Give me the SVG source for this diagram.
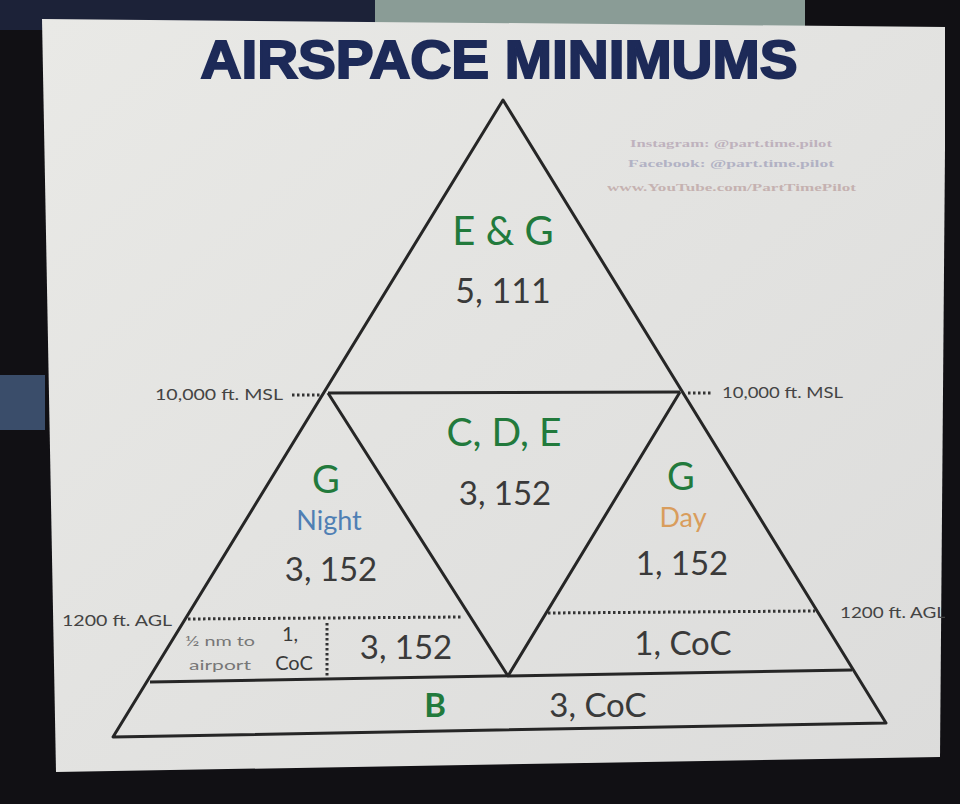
<svg xmlns="http://www.w3.org/2000/svg" width="960" height="804" viewBox="0 0 960 804">
<defs>
<style>
.ln{stroke:#262626;stroke-width:3;fill:none;stroke-linejoin:round}
.dot{stroke:#333;stroke-width:3;fill:none;stroke-dasharray:2.5 2.5}
.g{font-family:Lato,"Open Sans","Liberation Sans",sans-serif;fill:#227a3c;text-anchor:middle}
.n{font-family:Lato,"Open Sans","Liberation Sans",sans-serif;fill:#3a3a3a;text-anchor:middle}
.s{font-family:Lato,"Liberation Sans",Arial,sans-serif;fill:#444;font-size:15px}
.w{font-family:"Liberation Serif",serif;font-weight:bold;font-size:11px;opacity:0.4}
</style>
<linearGradient id="bg" x1="0" y1="0" x2="1" y2="1">
<stop offset="0" stop-color="#e9e9e6"/>
<stop offset="1" stop-color="#dcdcdb"/>
</linearGradient>
</defs>
<rect width="960" height="804" fill="#111014"/>
<rect x="0" y="0" width="375" height="30" fill="#1c2238"/>
<rect x="375" y="0" width="430" height="30" fill="#8a9c96"/>
<rect x="0" y="375" width="45" height="55" fill="#3a4d6a"/>
<polygon points="42,19 946,27 940,757 56,772" fill="url(#bg)"/>
<g id="title">
<text x="499" y="78" font-family="'Liberation Sans',Arial,sans-serif" font-weight="bold" font-size="53" fill="#1d2a58" text-anchor="middle" textLength="597" lengthAdjust="spacingAndGlyphs" stroke="#1d2a58" stroke-width="2">AIRSPACE MINIMUMS</text>
</g>
<g id="watermark">
<text class="w" x="630" y="147" textLength="202" lengthAdjust="spacingAndGlyphs" fill="#8a6a8a">Instagram: @part.time.pilot</text>
<text class="w" x="628" y="167" textLength="206" lengthAdjust="spacingAndGlyphs" fill="#6a6a9a">Facebook: @part.time.pilot</text>
<text class="w" x="607" y="191" textLength="249" lengthAdjust="spacingAndGlyphs" fill="#9a6a6a">www.YouTube.com/PartTimePilot</text>
</g>
<g id="connectors">
<polygon class="ln" points="503,100 886,723 113,737"/>
<line class="ln" x1="328" y1="393" x2="680" y2="392"/>
<line class="ln" x1="150" y1="682" x2="852" y2="670"/>
<polyline class="ln" points="328,393 508,676 680,392"/>
<line class="dot" x1="292" y1="395" x2="322" y2="395"/>
<line class="dot" x1="688" y1="393" x2="712" y2="393"/>
<line class="dot" x1="188" y1="619" x2="462" y2="617"/>
<line class="dot" x1="548" y1="613" x2="815" y2="611"/>
<line class="dot" x1="327" y1="623" x2="327" y2="676"/>
</g>
<g id="eg"><text class="g" x="503" y="245" font-size="40">E &amp; G</text><text class="n" x="503" y="303" font-size="34">5, 111</text></g>
<g id="cde"><text class="g" x="504" y="446" font-size="39">C, D, E</text><text class="n" x="505" y="505" font-size="33">3, 152</text></g>
<g id="g-night"><text class="g" x="326" y="493" font-size="38">G</text><text class="n" x="329" y="530" font-size="27" style="fill:#4f7fb4">Night</text><text class="n" x="331" y="581" font-size="33">3, 152</text></g>
<g id="g-day"><text class="g" x="681" y="490" font-size="38">G</text><text class="n" x="683" y="527" font-size="27" style="fill:#d99d5c">Day</text><text class="n" x="682" y="575" font-size="33">1, 152</text></g>
<g id="g-night-low"><text class="n" x="220" y="646" font-size="14" textLength="70" lengthAdjust="spacingAndGlyphs" style="fill:#777">½ nm to</text><text class="n" x="220" y="670" font-size="14" textLength="62" lengthAdjust="spacingAndGlyphs" style="fill:#777">airport</text><text class="n" x="290" y="641" font-size="20">1,</text><text class="n" x="294" y="670" font-size="20">CoC</text><text class="n" x="406" y="659" font-size="33">3, 152</text></g>
<g id="g-day-low"><text class="n" x="683" y="655" font-size="33">1, CoC</text></g>
<g id="b"><text class="g" x="435" y="717" font-size="33" font-weight="bold">B</text><text class="n" x="598" y="717" font-size="33">3, CoC</text></g>
<g id="labels">
<text class="s" x="155" y="400" textLength="128" lengthAdjust="spacingAndGlyphs">10,000 ft. MSL</text>
<text class="s" x="722" y="398" textLength="121" lengthAdjust="spacingAndGlyphs">10,000 ft. MSL</text>
<text class="s" x="62" y="626" textLength="110" lengthAdjust="spacingAndGlyphs">1200 ft. AGL</text>
<text class="s" x="840" y="618" textLength="106" lengthAdjust="spacingAndGlyphs">1200 ft. AGL</text>
</g>
<rect x="945" y="0" width="15" height="804" fill="#111014"/>
</svg>
